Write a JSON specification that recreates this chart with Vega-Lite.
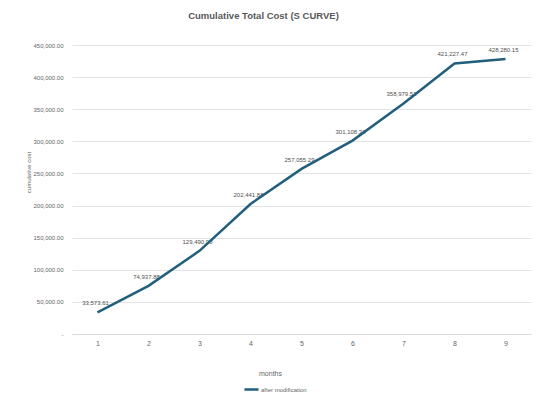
{
  "$schema": "https://vega.github.io/schema/vega-lite/v6.json",
  "width": 459,
  "height": 289,
  "autosize": {"type": "none"},
  "padding": {"left": 72, "top": 45, "right": 13, "bottom": 71},
  "background": "white",
  "title": {
    "text": "Cumulative Total Cost (S CURVE)",
    "font": "Liberation Sans",
    "fontSize": 9.5,
    "fontWeight": "bold",
    "color": "#595959",
    "anchor": "middle",
    "dx": -38,
    "offset": 22
  },
  "data": {
    "values": [
      {"month": 1, "cost": 33573.61, "label": "33,573.61", "series": "after modification"},
      {"month": 2, "cost": 74937.88, "label": "74,937.88", "series": "after modification"},
      {"month": 3, "cost": 129490.98, "label": "129,490.98", "series": "after modification"},
      {"month": 4, "cost": 202441.88, "label": "202,441.88", "series": "after modification"},
      {"month": 5, "cost": 257055.29, "label": "257,055.29", "series": "after modification"},
      {"month": 6, "cost": 301108.38, "label": "301,108.38", "series": "after modification"},
      {"month": 7, "cost": 358979.53, "label": "358,979.53", "series": "after modification"},
      {"month": 8, "cost": 421227.47, "label": "421,227.47", "series": "after modification"},
      {"month": 9, "cost": 428280.15, "label": "428,280.15", "series": "after modification"}
    ]
  },
  "encoding": {
    "x": {
      "field": "month",
      "type": "ordinal",
      "scale": {"paddingInner": 0, "paddingOuter": 0},
      "axis": {
        "title": "months",
        "labelAngle": 0,
        "labelFont": "Liberation Sans",
        "labelFontSize": 7,
        "labelColor": "#666666",
        "labelPadding": 5,
        "ticks": false,
        "domain": true,
        "domainColor": "#d9d9d9",
        "titleFont": "Liberation Sans",
        "titleFontSize": 7,
        "titleFontWeight": "normal",
        "titleColor": "#666666",
        "titleX": 198,
        "titleY": 35
      }
    },
    "y": {
      "field": "cost",
      "type": "quantitative",
      "scale": {"domain": [0, 450000], "nice": false},
      "axis": {
        "title": "cumulative cost",
        "values": [0, 50000, 100000, 150000, 200000, 250000, 300000, 350000, 400000, 450000],
        "labelExpr": "datum.value == 0 ? '-' : format(datum.value, ',.2f')",
        "labelFont": "Liberation Sans",
        "labelFontSize": 6,
        "labelColor": "#666666",
        "labelPadding": 9,
        "ticks": false,
        "domain": false,
        "grid": true,
        "gridColor": "#e3e3e3",
        "titleFont": "Liberation Sans",
        "titleFontSize": 6,
        "titleFontWeight": "normal",
        "titleColor": "#666666",
        "titleX": -44,
        "titleY": 127,
        "titleAngle": -90,
        "titleAlign": "center",
        "titleBaseline": "middle"
      }
    }
  },
  "layer": [
    {
      "mark": {"type": "text", "font": "Liberation Sans", "fontSize": 6, "color": "#505050", "dy": -9, "dx": -2, "baseline": "middle"},
      "encoding": {"text": {"field": "label"}}
    },
    {
      "mark": {"type": "line", "strokeWidth": 2.5, "color": "#215f7c"},
      "encoding": {
        "color": {
          "field": "series",
          "type": "nominal",
          "scale": {"range": ["#215f7c"]},
          "legend": {
            "title": null,
            "orient": "none",
            "legendX": 171,
            "legendY": 336,
            "symbolType": "stroke",
            "symbolStrokeWidth": 2.5,
            "symbolSize": 200,
            "labelFont": "Liberation Sans",
            "labelFontSize": 6,
            "labelColor": "#666666",
            "labelOffset": 1
          }
        }
      }
    }
  ],
  "config": {"view": {"stroke": null}}
}
